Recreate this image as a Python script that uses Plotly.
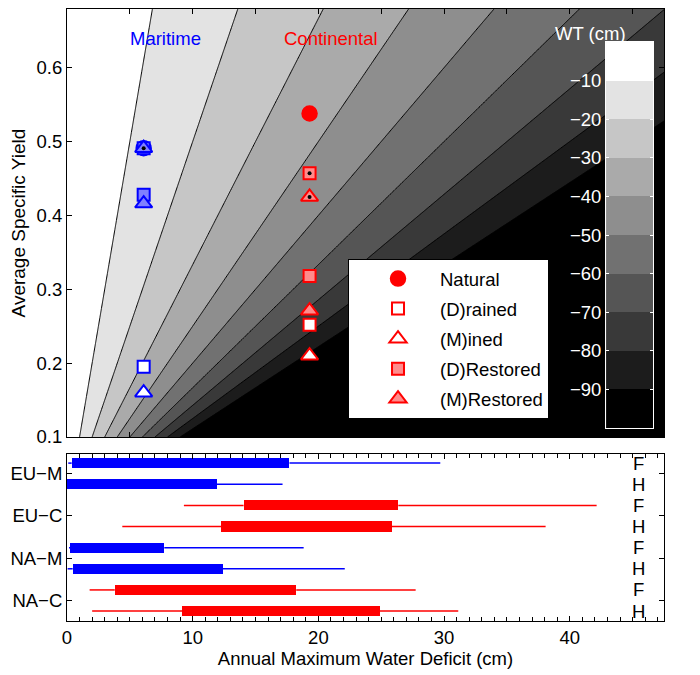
import numpy as np
import plotly.graph_objects as go

# ---- top panel: specific yield vs deficit, WT = -deficit / Sy ----
wt_levels = [-90, -80, -70, -60, -50, -40, -30, -20, -10]
def_grid = np.linspace(0, 47.5, 400)
sy_grid = np.linspace(0.1, 0.68, 400)

regions = ["Maritime", "Continental"]
region_x = [6.1, 19.3]            # annual max water deficit (cm)
region_col = ["#0000ff", "#ff0000"]
region_fill = ["#8080ff", "#ff8c8c"]
sy_natural = [0.491, 0.538]
sy_drained = [0.195, 0.252]
sy_mined = [0.160, 0.210]
sy_drest = [0.428, 0.318]
sy_mrest = [0.416, 0.271]
sy_dot_sq = [0.491, 0.457]
sy_dot_tri = [0.491, 0.425]

# ---- bottom panel: deficit ranges ----
groups = ["EU\u2212M", "EU\u2212C", "NA\u2212M", "NA\u2212C"]
row_lab = ["F", "H", "F", "H", "F", "H", "F", "H"]
row_reg = [0, 0, 1, 1, 0, 0, 1, 1]
d_min = [0.1, 0.0, 9.3, 4.4, 0.16, 0.05, 1.8, 2.0]
d_q1 = [0.37, 0.0, 14.05, 12.25, 0.24, 0.45, 3.8, 9.17]
d_q3 = [17.7, 11.9, 26.36, 25.83, 7.74, 12.39, 18.24, 24.9]
d_max = [29.7, 17.15, 42.14, 38.08, 18.83, 22.1, 27.74, 31.13]

# colour bar bands
cb_centers = [-95, -85, -75, -65, -55, -45, -35, -25, -15, -5]

FONT = "Liberation Sans, Arial, sans-serif"
FS = 18.5
gray = [[0, "black"], [1, "white"]]

fig = go.Figure()

X, Y = np.meshgrid(def_grid, sy_grid)
fig.add_trace(go.Contour(x=def_grid, y=sy_grid, z=-X / Y, autocontour=False,
    contours=dict(start=wt_levels[0], end=wt_levels[-1], size=10, coloring="fill"),
    colorscale=gray, line=dict(color="black", width=1), showscale=False,
    hoverinfo="skip", xaxis="x", yaxis="y"))

cats = [("Natural", sy_natural, "circle", 15, "solid"),
        ("(D)rained", sy_drained, "square", 12, "open"),
        ("(M)ined", sy_mined, "triangle-up", 15, "open"),
        ("(D)Restored", sy_drest, "square", 12, "light"),
        ("(M)Restored", sy_mrest, "triangle-up", 15, "light")]
for name, vals, sym, sz, style in cats:
    for i in range(2):
        fc = {"solid": region_col[i], "open": "white", "light": region_fill[i]}[style]
        fig.add_trace(go.Scatter(x=[region_x[i]], y=[vals[i]], mode="markers",
            name=name, legendgroup=name, showlegend=(i == 1),
            marker=dict(symbol=sym, size=sz, color=fc,
                        line=dict(color=region_col[i], width=1.5 if style == "solid" else 2)),
            xaxis="x", yaxis="y"))

for vals, sym, sz in [(sy_dot_sq, "square", 12), (sy_dot_tri, "triangle-up", 15)]:
    for i in range(2):
        fig.add_trace(go.Scatter(x=[region_x[i]], y=[vals[i]], mode="markers", showlegend=False,
            marker=dict(symbol=sym, size=sz, color=region_fill[i],
                        line=dict(color=region_col[i], width=2)), xaxis="x", yaxis="y"))
        fig.add_trace(go.Scatter(x=[region_x[i]], y=[vals[i]], mode="markers", showlegend=False,
            marker=dict(symbol="circle", size=4, color="black"), xaxis="x", yaxis="y"))

# bottom panel
rows = list(range(1, 9))
fig.add_trace(go.Bar(orientation="h", y=rows, base=d_q1,
    x=[b - a for a, b in zip(d_q1, d_q3)], width=0.48,
    marker=dict(color=[region_col[r] for r in row_reg], line=dict(width=0)),
    showlegend=False, xaxis="x2", yaxis="y2"))
for i in rows:
    k = i - 1
    fig.add_trace(go.Scatter(x=[d_min[k], d_q1[k], None, d_q3[k], d_max[k]], y=[i] * 5,
        mode="lines", line=dict(color=region_col[row_reg[k]], width=1.5),
        showlegend=False, xaxis="x2", yaxis="y2"))

# colour bar as its own small heatmap
fig.add_trace(go.Heatmap(x=[0], y=cb_centers, z=[[c] for c in cb_centers],
    colorscale=gray, zmin=cb_centers[0], zmax=cb_centers[-1], showscale=False,
    hoverinfo="skip", xaxis="x3", yaxis="y3"))

ann = [dict(x=region_x[0] + 1.7, y=0.64, text=regions[0], font=dict(color="blue")),
       dict(x=region_x[1] + 1.7, y=0.64, text=regions[1], font=dict(color="red"))]
ann = [dict(a, xref="x", yref="y", showarrow=False) for a in ann]
for i, t in enumerate(row_lab):
    ann.append(dict(x=45.5, y=i + 1, text=t, xref="x2", yref="y2", showarrow=False))
ann.append(dict(x=0.9397, y=0.9788, xref="paper", yref="paper", text="WT (cm)",
                showarrow=False, font=dict(color="white")))
# y title placed by hand (axis title standoff is clamped by the margin)
ann.append(dict(x=-0.081, y=0.6496, xref="paper", yref="paper", text="Average Specific Yield",
                xanchor="center", yanchor="middle", textangle=-90, showarrow=False,
                font=dict(size=19)))

ax = dict(showline=True, linecolor="black", linewidth=1, mirror="ticks", ticks="inside",
          ticklen=5, tickcolor="black", showgrid=False, zeroline=False, automargin=False)
# page body keeps its default 8px margin, so the figure is sized to fit the window
fig.update_layout(
    width=692, height=667, margin=dict(l=59, r=36, t=0, b=54),
    paper_bgcolor="white", plot_bgcolor="white",
    font=dict(family=FONT, size=FS, color="black"),
    xaxis=dict(ax, domain=[0, 1], range=[0, 47.5], anchor="y", dtick=5, showticklabels=False),
    yaxis=dict(ax, domain=[0.3002, 0.999], range=[0.1, 0.68], anchor="x", dtick=0.1,
               tickformat=".1f"),
    xaxis2=dict(ax, domain=[0, 1], range=[0, 47.5], anchor="y2", dtick=10,
                minor=dict(dtick=1, ticks="inside", ticklen=4, tickcolor="black"),
                title=dict(text="Annual Maximum Water Deficit (cm)", standoff=4,
                           font=dict(size=FS))),
    yaxis2=dict(ax, domain=[0, 0.2724], range=[8.47, 0.57], anchor="x2",
                tickvals=[1.5, 3.5, 5.5, 7.5], ticktext=groups),
    xaxis3=dict(domain=[0.903, 0.9816], range=[-0.5, 0.5], anchor="y3", showticklabels=False,
                showline=True, linecolor="white", mirror=True, showgrid=False, zeroline=False,
                automargin=False),
    yaxis3=dict(domain=[0.3148, 0.9445], range=[-100, 0], anchor="x3",
                tickvals=[-90, -80, -70, -60, -50, -40, -30, -20, -10],
                ticks="inside", ticklen=3, tickcolor="white", tickfont=dict(color="white"),
                showline=True, linecolor="white", mirror="ticks", showgrid=False, zeroline=False,
                automargin=False),
    legend=dict(x=0.4707, y=0.5905, xanchor="left", yanchor="top", bgcolor="white",
                bordercolor="black", borderwidth=1, itemwidth=74, indentation=7,
                tracegroupgap=3, traceorder="grouped", font=dict(size=FS)),
    annotations=ann, bargap=0,
)
fig.write_html("out.html")
